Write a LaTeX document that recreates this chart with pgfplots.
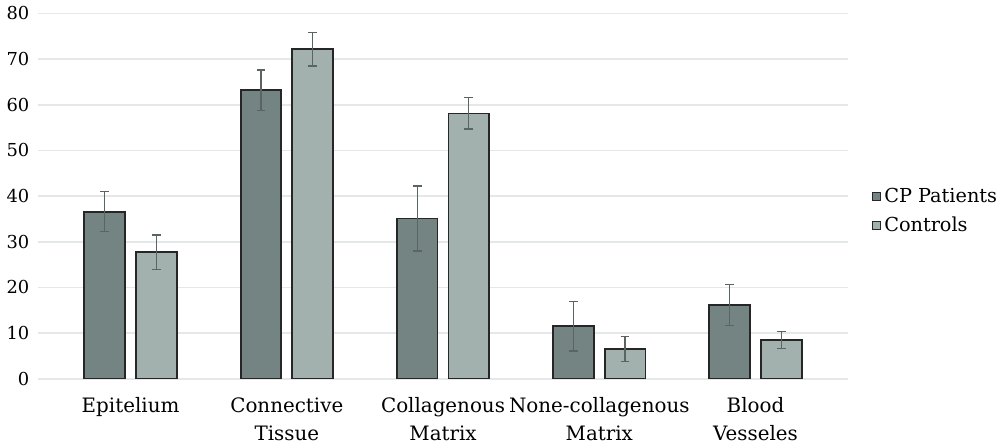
\documentclass[border=0pt]{standalone}
\usepackage{pgfplots}
\pgfplotsset{compat=1.18}
\usepackage{fontspec}
\setmainfont{DejaVu Serif}

\definecolor{cpdark}{HTML}{738483}
\definecolor{ctlight}{HTML}{A2B0AE}
\definecolor{gridc}{HTML}{E4E8E8}
\definecolor{errc}{HTML}{5A6463}

\begin{document}
\begin{tikzpicture}
\begin{axis}[
    width=407.5pt, height=184pt, scale only axis,
    ybar, bar width=20.5pt, ybar=5.5pt,
    ymin=0, ymax=80, ytick={0,10,...,80},
    xmin=-0.59, xmax=4.59,
    xtick={0,1,2,3,4},
    xticklabels={Epitelium, {Connective\\Tissue}, {Collagenous\\Matrix}, {None-collagenous\\Matrix}, {Blood\\Vesseles}},
    xticklabel style={align=center, font=\fontsize{10}{14}\selectfont, yshift=-6pt},
    yticklabel style={font=\fontsize{9}{11}\selectfont, xshift=-1pt},
    /pgf/number format/assume math mode=true,
    major tick length=0pt,
    axis line style={draw=none},
    ymajorgrids, grid style={gridc, line width=0.8pt},
    legend style={draw=none, fill=none, at={(rel axis cs:1.03,0.459)}, anchor=west,
        font=\fontsize{9.7}{13}\selectfont, row sep=1.5pt, inner sep=0pt,
        nodes={inner xsep=1.5pt}},
    legend cell align=left,
    legend image code/.code={\draw[#1, line width=0.5pt] (0pt,-2pt) rectangle (4pt,2pt);},
    error bars/error bar style={errc, line width=0.6pt},
    error bars/error mark options={rotate=90, mark size=2.2pt, line width=0.6pt, errc},
]
\addplot[fill=cpdark, draw=black!85, line width=0.9pt,
    error bars/.cd, y dir=both, y explicit]
    coordinates {(0,36.6) +- (0,4.4) (1,63.2) +- (0,4.4) (2,35.1) +- (0,7.1) (3,11.5) +- (0,5.4) (4,16.1) +- (0,4.5)};
\addlegendentry{CP Patients}
\addplot[fill=ctlight, draw=black!85, line width=0.9pt,
    error bars/.cd, y dir=both, y explicit]
    coordinates {(0,27.7) +- (0,3.8) (1,72.2) +- (0,3.7) (2,58.1) +- (0,3.4) (3,6.5) +- (0,2.7) (4,8.5) +- (0,1.9)};
\addlegendentry{Controls}
\end{axis}
\end{tikzpicture}
\end{document}
